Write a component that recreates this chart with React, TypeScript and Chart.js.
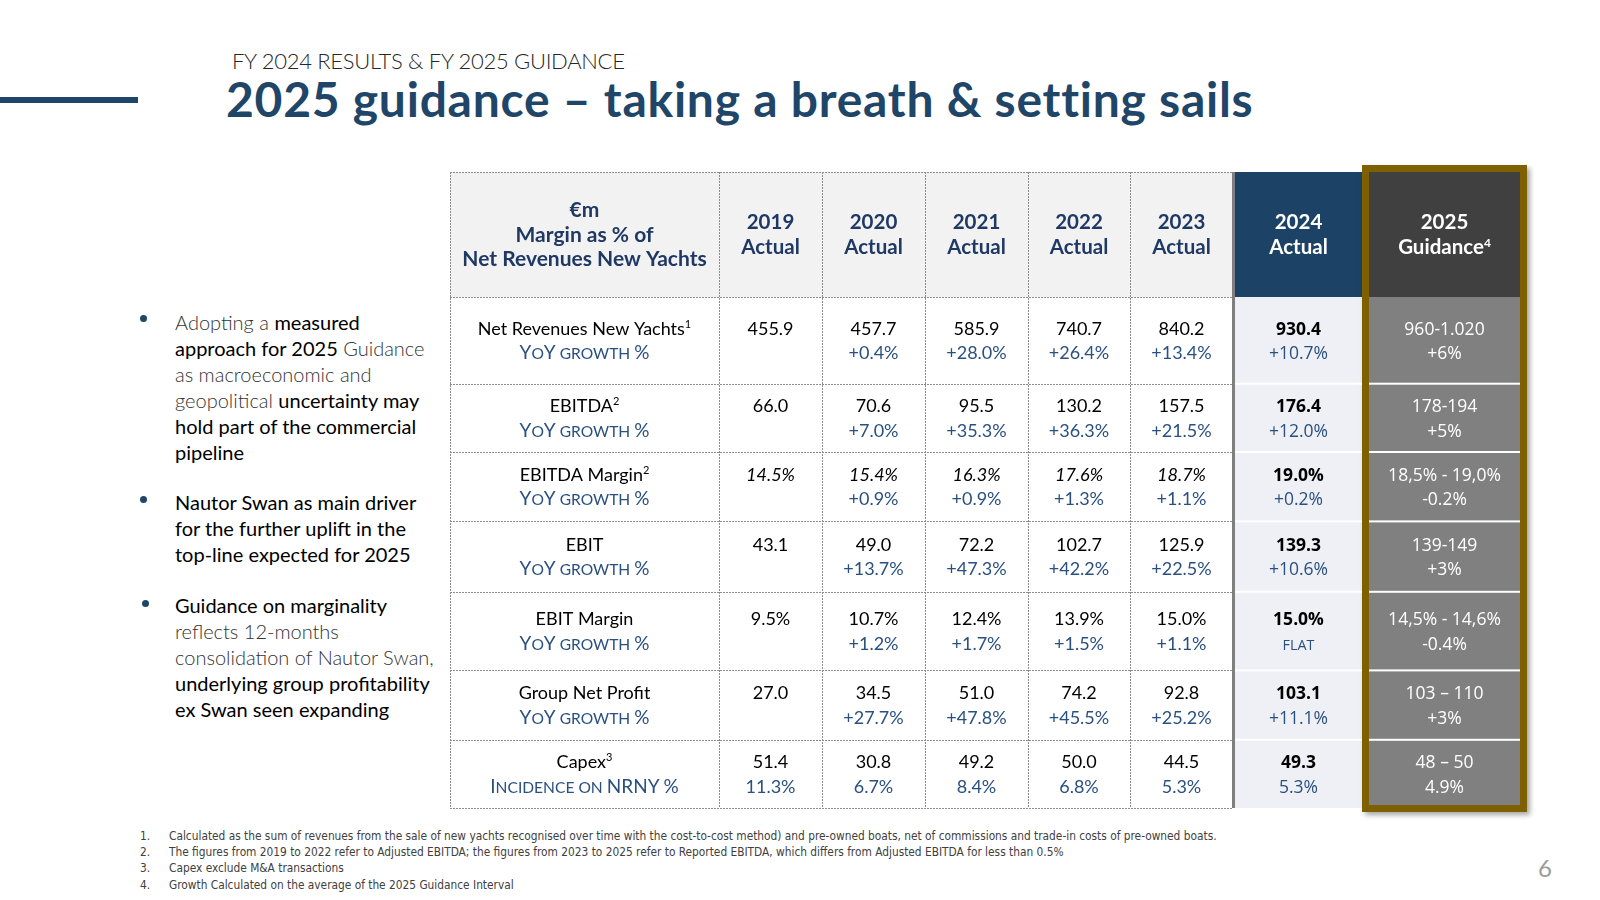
import React, { useEffect, useRef } from "react";
import { Chart, registerables } from "chart.js";

Chart.register(...registerables);

// ---------------- DATA ----------------
const headerLabel = ["€m", "Margin as % of", "Net Revenues New Yachts"];
const columnYears = ["2019", "2020", "2021", "2022", "2023", "2024"];
const columnKind = "Actual";
const guidanceYear = "2025";
const guidanceLabel = "Guidance";
const guidanceNote = "4";

const rowLabels = ["Net Revenues New Yachts", "EBITDA", "EBITDA Margin", "EBIT", "EBIT Margin", "Group Net Profit", "Capex"];
const rowNotes = ["1", "2", "2", "", "", "", "3"];
const rowSubLabels = ["YoY growth %", "YoY growth %", "YoY growth %", "YoY growth %", "YoY growth %", "YoY growth %", "Incidence on NRNY %"];

const netRevenues = [455.9, 457.7, 585.9, 740.7, 840.2, 930.4];
const netRevenuesGrowth = [null, 0.4, 28.0, 26.4, 13.4, 10.7];
const ebitda = [66.0, 70.6, 95.5, 130.2, 157.5, 176.4];
const ebitdaGrowth = [null, 7.0, 35.3, 36.3, 21.5, 12.0];
const ebitdaMargin = [14.5, 15.4, 16.3, 17.6, 18.7, 19.0];
const ebitdaMarginGrowth = [null, 0.9, 0.9, 1.3, 1.1, 0.2];
const ebit = [43.1, 49.0, 72.2, 102.7, 125.9, 139.3];
const ebitGrowth = [null, 13.7, 47.3, 42.2, 22.5, 10.6];
const ebitMargin = [9.5, 10.7, 12.4, 13.9, 15.0, 15.0];
const ebitMarginGrowth = [null, 1.2, 1.7, 1.5, 1.1, 0];
const netProfit = [27.0, 34.5, 51.0, 74.2, 92.8, 103.1];
const netProfitGrowth = [null, 27.7, 47.8, 45.5, 25.2, 11.1];
const capex = [51.4, 30.8, 49.2, 50.0, 44.5, 49.3];
const capexIncidence = [11.3, 6.7, 8.4, 6.8, 5.3, 5.3];

const guidanceRanges = ["960-1.020", "178-194", "18,5% - 19,0%", "139-149", "14,5% - 14,6%", "103 – 110", "48 – 50"];
const guidanceGrowth = ["+6%", "+5%", "-0.2%", "+3%", "-0.4%", "+3%", "4.9%"];

const rowValues = [netRevenues, ebitda, ebitdaMargin, ebit, ebitMargin, netProfit, capex];
const rowSecond = [netRevenuesGrowth, ebitdaGrowth, ebitdaMarginGrowth, ebitGrowth, ebitMarginGrowth, netProfitGrowth, capexIncidence];
const rowIsPct = [false, false, true, false, true, false, false];
const rowItalic = [false, false, true, false, false, false, false];
const rowSecondSigned = [true, true, true, true, true, true, false];

// ---------------- LAYOUT / STYLE ----------------
const COL_WIDTHS = [269, 103, 103, 103, 102, 103, 129, 165];
const ROW_HEIGHTS = [125, 86.7, 68.3, 69.4, 70.4, 78.6, 69.4, 68.2];
const TOTAL_W = COL_WIDTHS.reduce((a, b) => a + b, 0);
const TOTAL_H = ROW_HEIGHTS.reduce((a, b) => a + b, 0);

const GS = "Lato, 'Noto Sans', sans-serif";
const OS = "'Open Sans', 'Noto Sans', sans-serif";
const NAVY_HEAD = "#1f3864";
const NAVY_TXT = "#2a5080";
const TITLE = "#1f4668";
const HEAD_BG = "#f2f2f2";
const C24_HEAD = "#1c4366";
const C24_BODY = "#eef0f5";
const C25_HEAD = "#404040";
const C25_BODY = "#808080";
const GOLD = "#7f6000";
const GRID = "#8c8c8c";

type Seg = { t: string; size: number; weight?: number; italic?: boolean; family: string; color: string; rise?: number };

function fontOf(s: Seg) {
  return `${s.italic ? "italic " : ""}${s.weight || 400} ${s.size}px ${s.family}`;
}

function drawRich(ctx: CanvasRenderingContext2D, segs: Seg[], cx: number, base: number) {
  const widths = segs.map((s) => {
    ctx.font = fontOf(s);
    return ctx.measureText(s.t).width;
  });
  const total = widths.reduce((a, b) => a + b, 0);
  let x = cx - total / 2;
  ctx.textAlign = "left";
  ctx.textBaseline = "alphabetic";
  segs.forEach((s, i) => {
    ctx.font = fontOf(s);
    ctx.fillStyle = s.color;
    ctx.fillText(s.t, x, base - (s.rise || 0));
    x += widths[i];
  });
}

function smallCaps(text: string, size: number, family: string, color: string, weight = 400): Seg[] {
  const segs: Seg[] = [];
  const small = size * 0.82;
  for (const ch of text) {
    const isLower = ch !== ch.toUpperCase();
    const isSpace = ch === " ";
    const sz = isLower || isSpace ? small : size;
    const t = ch.toUpperCase();
    const last = segs[segs.length - 1];
    if (last && last.size === sz) last.t += t;
    else segs.push({ t, size: sz, family, color, weight });
  }
  return segs;
}

function cumulative(arr: number[]) {
  const out = [0];
  arr.forEach((v) => out.push(out[out.length - 1] + v));
  return out;
}

function fmtGrowth(g: number | null, signed: boolean) {
  if (g === null) return "";
  return (signed && g > 0 ? "+" : "") + g.toFixed(1) + "%";
}

const tablePlugin = {
  id: "tablePlugin",
  afterDraw(chart: any) {
    const ctx: CanvasRenderingContext2D = chart.ctx;
    const xs = chart.scales.x;
    const ys = chart.scales.y;
    const colX = cumulative(COL_WIDTHS).map((v) => xs.getPixelForValue(v));
    const rowY = cumulative(ROW_HEIGHTS).map((v) => ys.getPixelForValue(v));
    const c24 = 6;
    const c25 = 7;
    const top = rowY[0];
    const bottom = rowY[rowY.length - 1];
    const nRows = ROW_HEIGHTS.length;
    ctx.save();

    // backgrounds
    ctx.fillStyle = HEAD_BG;
    ctx.fillRect(colX[0], top, colX[c24] - colX[0], rowY[1] - top);
    ctx.fillStyle = "#ffffff";
    ctx.fillRect(colX[0], rowY[1], colX[c24] - colX[0], bottom - rowY[1]);
    ctx.fillStyle = C24_HEAD;
    ctx.fillRect(colX[c24], top, colX[c25] - colX[c24], rowY[1] - top);
    ctx.fillStyle = C24_BODY;
    ctx.fillRect(colX[c24], rowY[1], colX[c25] - colX[c24], bottom - rowY[1]);

    // gold frame
    const GW = 7;
    const gx0 = colX[c25];
    const gx1 = colX[c25 + 1];
    const gy0 = top - GW;
    const gy1 = bottom + 4;
    ctx.save();
    ctx.shadowColor = "rgba(0,0,0,0.35)";
    ctx.shadowBlur = 5;
    ctx.shadowOffsetX = 3;
    ctx.shadowOffsetY = 3;
    ctx.fillStyle = GOLD;
    ctx.fillRect(gx0, gy0, gx1 - gx0, gy1 - gy0);
    ctx.restore();
    const ix0 = gx0 + GW;
    const ix1 = gx1 - GW;
    const iy1 = gy1 - GW;
    ctx.fillStyle = C25_HEAD;
    ctx.fillRect(ix0, top, ix1 - ix0, rowY[1] - top);
    ctx.fillStyle = C25_BODY;
    ctx.fillRect(ix0, rowY[1], ix1 - ix0, iy1 - rowY[1]);

    // white separators
    ctx.fillStyle = "#ffffff";
    for (let r = 2; r < nRows; r++) {
      ctx.fillRect(colX[c24], rowY[r] - 1, colX[c25] - colX[c24], 2);
      ctx.fillRect(ix0, rowY[r] - 1, ix1 - ix0, 2);
    }

    // dashed grid
    ctx.save();
    ctx.strokeStyle = GRID;
    ctx.lineWidth = 1;
    ctx.setLineDash([2, 1]);
    for (let r = 0; r <= nRows; r++) {
      const y = Math.round(rowY[r]) + 0.5;
      ctx.beginPath();
      ctx.moveTo(colX[0], y);
      ctx.lineTo(colX[c24], y);
      ctx.stroke();
    }
    for (let c = 0; c < c24; c++) {
      const x = Math.round(colX[c]) + 0.5;
      ctx.beginPath();
      ctx.moveTo(x, top);
      ctx.lineTo(x, bottom);
      ctx.stroke();
    }
    ctx.restore();
    ctx.fillStyle = "#7f7f7f";
    ctx.fillRect(colX[c24] - 1, top, 3, bottom - top);

    // header text
    const hc = (rowY[0] + rowY[1]) / 2;
    const LS = 24.4;
    const HS = 20.5;
    const cx0 = (colX[0] + colX[1]) / 2;
    headerLabel.forEach((t, i) => {
      drawRich(ctx, [{ t, size: 21, weight: 700, family: GS, color: NAVY_HEAD }], cx0, hc + (i - 1) * LS + 7);
    });
    columnYears.forEach((yr, i) => {
      const c = i + 1;
      const cx = (colX[c] + colX[c + 1]) / 2 + (c === c24 ? 1 : 0);
      const color = c === c24 ? "#ffffff" : NAVY_HEAD;
      drawRich(ctx, [{ t: yr, size: HS, weight: 700, family: GS, color }], cx, hc - LS / 2 + 7);
      drawRich(ctx, [{ t: columnKind, size: HS, weight: 700, family: GS, color }], cx, hc + LS / 2 + 7);
    });
    const gcx = (ix0 + ix1) / 2;
    drawRich(ctx, [{ t: guidanceYear, size: HS, weight: 700, family: GS, color: "#ffffff" }], gcx, hc - LS / 2 + 7);
    drawRich(
      ctx,
      [
        { t: guidanceLabel, size: HS, weight: 700, family: GS, color: "#ffffff" },
        { t: guidanceNote, size: 12, weight: 700, family: GS, color: "#ffffff", rise: 7 },
      ],
      gcx,
      hc + LS / 2 + 7
    );

    // body text
    rowLabels.forEach((label, r) => {
      const y0 = rowY[r + 1];
      const y1 = rowY[r + 2];
      const mid = (y0 + y1) / 2;
      const b1 = mid - LS / 2 + 6.5;
      const b2 = mid + LS / 2 + 6.5;
      const segs: Seg[] = [{ t: label, size: 18, family: GS, color: "#000000" }];
      if (rowNotes[r]) segs.push({ t: rowNotes[r], size: 11, family: GS, color: "#000000", rise: 7 });
      drawRich(ctx, segs, cx0, b1);
      drawRich(ctx, smallCaps(rowSubLabels[r], 19, GS, NAVY_TXT), cx0, b2);

      const vals = rowValues[r];
      const sec = rowSecond[r];
      vals.forEach((v, i) => {
        const c = i + 1;
        const isLast = c === c24;
        const cx = (colX[c] + colX[c + 1]) / 2 + (isLast ? 1 : 0);
        const txt = v.toFixed(1) + (rowIsPct[r] ? "%" : "");
        if (isLast) {
          drawRich(ctx, [{ t: txt, size: 17.5, weight: 700, family: OS, color: "#000000" }], cx, b1);
          const g = sec[i];
          if (g === 0) drawRich(ctx, smallCaps("flat", 17.5, OS, NAVY_TXT), cx, b2);
          else drawRich(ctx, [{ t: fmtGrowth(g, rowSecondSigned[r]), size: 17.5, family: OS, color: NAVY_TXT }], cx, b2);
        } else {
          drawRich(ctx, [{ t: txt, size: 18, italic: rowItalic[r], family: GS, color: "#000000" }], cx, b1);
          const gt = fmtGrowth(sec[i], rowSecondSigned[r]);
          if (gt) drawRich(ctx, [{ t: gt, size: 18, family: GS, color: NAVY_TXT }], cx, b2);
        }
      });
      drawRich(ctx, [{ t: guidanceRanges[r], size: 17.5, family: OS, color: "#ffffff" }], gcx, b1);
      drawRich(ctx, [{ t: guidanceGrowth[r], size: 17.5, family: OS, color: "#ffffff" }], gcx, b2);
    });

    ctx.restore();
  },
};

function TableChart() {
  const ref = useRef<HTMLCanvasElement | null>(null);
  useEffect(() => {
    if (!ref.current) return;
    const chart = new Chart(ref.current, {
      type: "scatter",
      data: { datasets: [] },
      options: {
        animation: false,
        responsive: false,
        events: [],
        layout: { padding: { left: 10, top: 17, right: 13, bottom: 17 } },
        plugins: { legend: { display: false }, tooltip: { enabled: false } },
        scales: {
          x: { type: "linear", min: 0, max: TOTAL_W, display: false },
          y: { type: "linear", min: 0, max: TOTAL_H, reverse: true, display: false },
        },
      },
      plugins: [tablePlugin],
    } as any);
    return () => chart.destroy();
  }, []);
  return (
    <canvas
      ref={ref}
      width={1100}
      height={670}
      style={{ position: "absolute", left: 440, top: 155, width: 1100, height: 670 }}
    />
  );
}

const light: React.CSSProperties = { fontWeight: 300, color: "#333333" };
const dark: React.CSSProperties = { fontWeight: 400, color: "#000000" };

const footnotes = [
  "Calculated as the sum of revenues from the sale of new yachts recognised over time with the cost-to-cost method) and pre-owned boats, net of commissions and trade-in costs of pre-owned boats.",
  "The figures from 2019 to 2022 refer to Adjusted EBITDA; the figures from 2023 to 2025 refer to Reported EBITDA, which differs from Adjusted EBITDA for less than 0.5%",
  "Capex exclude M&A transactions",
  "Growth Calculated on the average of the 2025 Guidance Interval",
];
const footnoteTops = [828, 844, 860, 877];
const bulletDots = [
  { x: 143, y: 318 },
  { x: 143, y: 499 },
  { x: 145, y: 603 },
];

export default function App() {
  const bulletStyle: React.CSSProperties = {
    position: "absolute",
    left: 175,
    width: 290,
    fontFamily: GS,
    fontSize: 20,
    lineHeight: "26px",
    whiteSpace: "nowrap",
  };
  return (
    <div style={{ position: "absolute", left: 0, top: 0, width: 1600, height: 900, background: "#ffffff", overflow: "hidden" }}>
      <div style={{ position: "absolute", left: 232, top: 49, fontFamily: GS, fontWeight: 300, fontSize: 22, lineHeight: "24px", letterSpacing: -0.3, color: "#262626", whiteSpace: "nowrap" }}>
        FY 2024 RESULTS &amp; FY 2025 GUIDANCE
      </div>
      <div style={{ position: "absolute", left: 0, top: 97, width: 138, height: 6, background: TITLE }} />
      <div style={{ position: "absolute", left: 226, top: 75, fontFamily: GS, fontWeight: 700, fontSize: 48, lineHeight: "48px", letterSpacing: 0.75, color: TITLE, whiteSpace: "nowrap" }}>
        2025 guidance – taking a breath &amp; setting sails
      </div>

      {bulletDots.map((d, i) => (
        <div key={i} style={{ position: "absolute", left: d.x - 3.5, top: d.y - 3.5, width: 7, height: 7, borderRadius: "50%", background: TITLE }} />
      ))}
      <div style={{ ...bulletStyle, top: 309 }}>
        <span style={light}>Adopting a </span><span style={dark}>measured</span><br />
        <span style={dark}>approach for 2025</span><span style={light}> Guidance</span><br />
        <span style={light}>as macroeconomic and</span><br />
        <span style={light}>geopolitical </span><span style={dark}>uncertainty may</span><br />
        <span style={dark}>hold part of the commercial</span><br />
        <span style={dark}>pipeline</span>
      </div>
      <div style={{ ...bulletStyle, top: 489 }}>
        <span style={dark}>Nautor Swan as main driver</span><br />
        <span style={dark}>for the further uplift in the</span><br />
        <span style={dark}>top-line expected for 2025</span>
      </div>
      <div style={{ ...bulletStyle, top: 592 }}>
        <span style={dark}>Guidance on marginality</span><br />
        <span style={light}>reflects 12-months</span><br />
        <span style={light}>consolidation of Nautor Swan,</span><br />
        <span style={dark}>underlying group profitability</span><br />
        <span style={dark}>ex Swan seen expanding</span>
      </div>

      <TableChart />

      {footnotes.map((t, i) => (
        <div key={i} style={{ position: "absolute", top: footnoteTops[i], left: 140, fontFamily: "'Liberation Sans Narrow', 'DejaVu Sans Condensed', sans-serif", fontStretch: "condensed", fontSize: 11.8, lineHeight: "16px", color: "#404040", whiteSpace: "nowrap" }}>
          <span style={{ display: "inline-block", width: 29 }}>{i + 1}.</span>
          {t}
        </div>
      ))}
      <div style={{ position: "absolute", left: 1538, top: 856, fontFamily: GS, fontWeight: 400, fontSize: 24, lineHeight: "24px", color: "#9a9a9a" }}>6</div>
    </div>
  );
}
